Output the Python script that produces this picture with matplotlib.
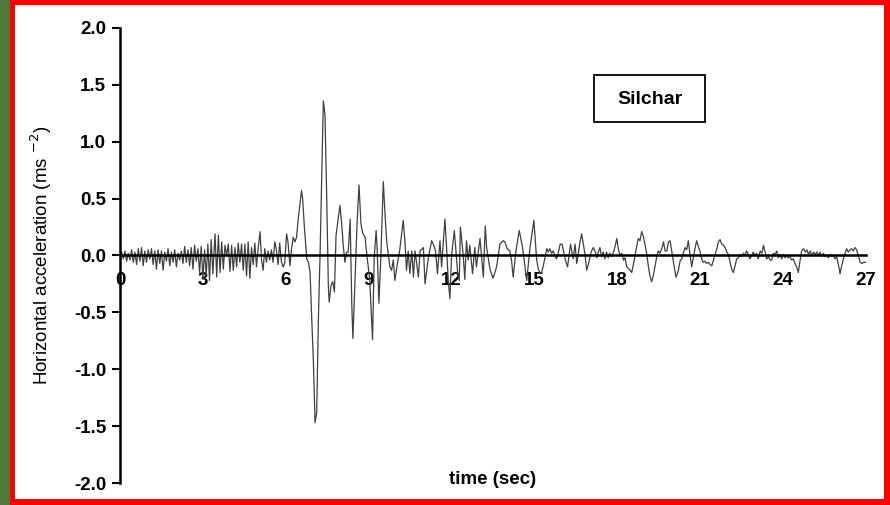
import numpy as np
import matplotlib
matplotlib.use("Agg")
import matplotlib.pyplot as plt
from matplotlib.patches import Rectangle

plt.rcParams['font.family'] = ['Liberation Sans', 'DejaVu Sans']
plt.rcParams['axes.unicode_minus'] = False

# --- data: horizontal acceleration record ---
# first seconds: small noise on a regular sample grid
noise_t = np.linspace(0.0, 3.36, 57)
noise_a = [0.00, 0.03, -0.03, 0.04, -0.05, 0.02, -0.04, 0.05, -0.06, 0.03,
           -0.08, 0.06, -0.05, 0.07, -0.09, 0.04, -0.06, 0.05, -0.03, 0.06,
           -0.08, 0.04, -0.12, 0.05, -0.07, 0.04, -0.13, 0.03, -0.05, 0.06,
           -0.09, 0.03, -0.06, 0.05, -0.10, 0.02, -0.04, 0.04, -0.07, 0.08,
           -0.06, 0.05, -0.09, 0.07, -0.12, 0.09, -0.05, 0.06, -0.15, 0.08,
           -0.21, 0.05, -0.18, 0.10, -0.22, 0.14, -0.16]

# strong motion part: turning points (time, acceleration)
peak_t = [3.44, 3.50, 3.56, 3.62, 3.68, 3.74, 3.80, 3.86, 3.92, 3.98,
          4.04, 4.10, 4.16, 4.22, 4.28, 4.34, 4.40, 4.46, 4.52, 4.58,
          4.64, 4.70, 4.76, 4.82, 4.88, 4.94, 5.00, 5.07, 5.12, 5.18,
          5.24, 5.30, 5.36, 5.42, 5.48, 5.54, 5.60, 5.66, 5.72, 5.78,
          5.84, 5.90, 5.96, 6.03, 6.08, 6.15, 6.21, 6.27, 6.33, 6.39,
          6.45, 6.57, 6.61, 6.67, 6.76, 6.82, 6.88, 6.94, 7.00, 7.06,
          7.12, 7.18, 7.24, 7.30, 7.36, 7.42, 7.48, 7.54, 7.57, 7.64,
          7.70, 7.76, 7.82, 7.96, 8.02, 8.08, 8.14, 8.20, 8.26, 8.33,
          8.39, 8.43, 8.50, 8.58, 8.65, 8.72, 8.78, 8.87, 8.92, 9.04,
          9.10, 9.14, 9.20, 9.27, 9.31, 9.37, 9.44, 9.53, 9.59, 9.65,
          9.71, 9.77, 9.83, 9.89, 9.95, 10.04, 10.12, 10.25, 10.31, 10.37,
          10.43, 10.49, 10.56, 10.62, 10.68, 10.80, 10.86, 10.98, 11.04, 11.16,
          11.28, 11.34, 11.42, 11.49, 11.58, 11.64, 11.76, 11.82, 11.88, 11.94,
          12.00, 12.10, 12.16, 12.22, 12.28, 12.32, 12.42, 12.48, 12.54, 12.60,
          12.66, 12.76, 12.84, 12.90, 13.03, 13.15, 13.22, 13.27, 13.39, 13.50,
          13.63, 13.75, 13.87, 13.93, 14.01, 14.11, 14.17, 14.23, 14.33, 14.45,
          14.57, 14.72, 14.84, 14.98]
peak_a = [0.19, -0.19, 0.18, -0.15, 0.12, -0.12, 0.09, 0.00, 0.10, -0.14,
          0.09, -0.13, 0.07, -0.10, 0.11, -0.06, 0.10, -0.13, 0.10, -0.18,
          0.12, -0.20, 0.07, -0.08, 0.11, -0.10, 0.06, 0.21, -0.03, -0.13,
          0.06, -0.06, 0.04, -0.04, 0.05, -0.06, 0.12, 0.05, -0.08, 0.11,
          -0.05, -0.10, -0.07, 0.19, 0.12, -0.09, 0.06, 0.16, 0.12, 0.16,
          0.32, 0.57, 0.50, 0.26, -0.03, -0.06, -0.15, -0.56, -0.94, -1.47,
          -1.38, -0.56, 0.00, 0.70, 1.36, 1.23, 0.53, -0.26, -0.41, -0.26,
          -0.23, -0.32, 0.18, 0.44, 0.29, 0.09, -0.06, 0.03, 0.03, 0.32,
          -0.44, -0.73, -0.26, 0.28, 0.62, 0.28, 0.20, 0.16, 0.04, -0.22,
          -0.54, -0.74, -0.02, 0.22, 0.04, -0.42, -0.02, 0.65, 0.37, 0.13,
          0.01, -0.10, -0.13, -0.04, -0.22, -0.07, 0.04, 0.31, 0.13, -0.13,
          0.04, -0.16, 0.04, -0.19, 0.04, -0.19, 0.04, 0.07, -0.25, -0.02,
          0.13, 0.10, 0.04, -0.16, 0.13, -0.10, 0.32, 0.07, -0.22, -0.38,
          0.00, 0.22, 0.04, -0.15, -0.22, 0.25, 0.01, -0.21, 0.13, -0.04,
          0.09, -0.16, 0.07, -0.10, 0.15, -0.19, 0.26, 0.07, -0.12, -0.20,
          -0.10, 0.10, 0.13, 0.12, 0.06, 0.04, -0.04, -0.19, 0.04, 0.22,
          0.07, -0.22, 0.07, 0.31]

# coda: (time, acceleration) samples
coda = [(15.08, -0.04), (15.14, -0.12), (15.20, -0.15), (15.26, -0.15), (15.32, -0.09),
        (15.38, -0.02), (15.45, 0.06), (15.50, 0.03), (15.56, 0.06), (15.62, 0.02),
        (15.68, 0.04), (15.74, 0.00), (15.80, -0.03), (15.86, 0.02), (15.93, 0.10),
        (16.00, 0.10), (16.06, 0.03), (16.12, -0.04), (16.20, -0.10), (16.25, 0.00),
        (16.31, 0.10), (16.36, 0.02), (16.40, -0.03), (16.47, 0.10), (16.53, -0.07),
        (16.59, 0.02), (16.65, 0.12), (16.71, 0.19), (16.77, 0.10), (16.83, 0.01),
        (16.89, -0.13), (16.97, -0.06), (17.05, 0.03), (17.13, 0.07), (17.19, 0.04),
        (17.26, -0.02), (17.31, 0.03), (17.37, 0.07), (17.43, -0.01), (17.49, 0.03),
        (17.55, -0.03), (17.61, 0.03), (17.67, -0.02), (17.73, 0.02), (17.79, -0.01),
        (17.85, 0.02), (17.92, 0.08), (17.98, 0.15), (18.04, 0.05), (18.10, 0.00),
        (18.16, 0.02), (18.22, -0.04), (18.28, -0.02), (18.34, -0.10), (18.43, -0.12),
        (18.52, -0.15), (18.58, -0.08), (18.64, 0.00), (18.70, 0.08), (18.76, 0.15),
        (18.82, 0.13), (18.88, 0.21), (18.94, 0.17), (19.00, 0.10), (19.06, 0.02),
        (19.12, -0.09), (19.18, -0.18), (19.24, -0.23), (19.30, -0.18), (19.36, -0.10),
        (19.42, -0.02), (19.48, 0.04), (19.54, 0.02), (19.61, 0.06), (19.67, 0.12),
        (19.73, 0.04), (19.79, 0.04), (19.85, 0.12), (19.91, 0.13), (19.96, 0.05),
        (20.00, -0.01), (20.06, -0.10), (20.12, -0.19), (20.16, -0.17), (20.21, -0.13),
        (20.27, -0.05), (20.33, -0.03), (20.39, 0.02), (20.45, 0.07), (20.51, 0.05),
        (20.57, 0.13), (20.63, 0.01), (20.69, -0.10), (20.75, -0.02), (20.81, 0.06),
        (20.87, 0.13), (20.93, 0.08), (20.99, 0.04), (21.05, -0.03), (21.11, -0.06),
        (21.17, -0.05), (21.23, -0.07), (21.30, -0.06), (21.36, -0.08), (21.42, -0.09),
        (21.48, -0.04), (21.54, 0.01), (21.60, 0.06), (21.66, 0.12), (21.72, 0.14),
        (21.78, 0.10), (21.84, 0.09), (21.90, 0.07), (21.96, 0.03), (22.02, 0.01),
        (22.08, -0.06), (22.14, -0.12), (22.20, -0.15), (22.26, -0.09), (22.32, -0.03),
        (22.38, -0.02), (22.44, 0.01), (22.50, -0.01), (22.56, 0.02), (22.62, 0.00),
        (22.68, 0.04), (22.74, 0.01), (22.80, -0.03), (22.86, 0.00), (22.92, 0.03),
        (22.98, 0.00), (23.04, 0.02), (23.10, -0.03), (23.17, 0.04), (23.23, 0.02),
        (23.29, 0.09), (23.35, 0.03), (23.41, -0.03), (23.47, -0.01), (23.53, -0.04),
        (23.59, -0.04), (23.65, 0.02), (23.71, 0.01), (23.77, 0.04), (23.83, -0.02),
        (23.89, 0.01), (23.95, -0.03), (24.01, 0.01), (24.07, -0.02), (24.13, 0.00),
        (24.19, -0.02), (24.25, -0.01), (24.31, -0.04), (24.37, -0.03), (24.43, -0.07),
        (24.49, -0.10), (24.55, -0.15), (24.61, -0.05), (24.67, 0.04), (24.74, 0.06),
        (24.80, 0.03), (24.86, 0.05), (24.92, 0.01), (24.98, 0.04), (25.04, 0.00),
        (25.10, 0.03), (25.16, 0.01), (25.22, 0.03), (25.28, 0.00), (25.34, 0.03),
        (25.40, -0.01), (25.46, 0.02), (25.52, -0.01), (25.58, 0.00), (25.64, -0.02),
        (25.70, 0.01), (25.76, -0.01), (25.82, 0.00), (25.88, -0.03), (25.94, -0.01),
        (26.00, -0.08), (26.06, -0.16), (26.12, -0.09), (26.18, -0.03), (26.24, 0.02),
        (26.30, 0.06), (26.36, 0.03), (26.42, 0.05), (26.48, 0.06), (26.54, 0.04),
        (26.60, 0.07), (26.66, 0.05), (26.72, 0.00), (26.79, -0.06), (26.85, -0.07),
        (26.92, -0.06), (27.00, -0.06)]
coda_t, coda_a = zip(*coda)

time = np.concatenate([noise_t, peak_t, coda_t])
accel = np.concatenate([noise_a, peak_a, coda_a])

y_ticks = [-2.0, -1.5, -1.0, -0.5, 0.0, 0.5, 1.0, 1.5, 2.0]
x_ticks = [0, 3, 6, 9, 12, 15, 18, 21, 24, 27]
station = 'Silchar'

# --- figure with the green strip and red frame ---
fig = plt.figure(figsize=(8.9, 5.05), dpi=100, facecolor='#4e7a37')
fig.add_artist(Rectangle((10/890, 0), 880/890, 1, transform=fig.transFigure,
                         facecolor='#ff0000', edgecolor='none', zorder=-3))
fig.add_artist(Rectangle((15/890, 6/505), 869/890, 494/505, transform=fig.transFigure,
                         facecolor='white', edgecolor='none', zorder=-2))

ax = fig.add_axes([120/890, 1 - 483/505, 746/890, 455/505])
ax.set_facecolor('none')

ax.plot(time, accel, color='#404040', lw=0.9)

ax.set_xlim(0, 27)
ax.set_ylim(-2, 2)

ax.spines['top'].set_visible(False)
ax.spines['right'].set_visible(False)
ax.spines['bottom'].set_position(('data', 0))
ax.spines['left'].set_linewidth(1.8)
ax.spines['bottom'].set_linewidth(1.8)

ax.set_yticks(y_ticks)
ax.set_yticklabels([f'{v:.1f}' for v in y_ticks])
ax.set_xticks(x_ticks)
ax.tick_params(axis='y', direction='out', length=6, width=1.5, labelsize=13.5, pad=4)
ax.tick_params(axis='x', length=0, labelsize=13.5, pad=12)
for lab in ax.get_xticklabels() + ax.get_yticklabels():
    lab.set_fontweight('bold')

ax.set_ylabel('Horizontal acceleration (ms $^{-2}$)', fontsize=13.5)
ax.yaxis.set_label_coords(-0.088, 0.5)
ax.text(13.5, -1.97, 'time (sec)', ha='center', va='center',
        fontsize=13.5, fontweight='bold')

# station box
fig.add_artist(Rectangle((594/890, 1 - 122/505), 111/890, 47/505,
                         transform=fig.transFigure, facecolor='white',
                         edgecolor='black', lw=1.3))
fig.text(650/890, 1 - 99/505, station, ha='center', va='center',
         fontsize=14, fontweight='bold')

fig.savefig('out.png', dpi=100, facecolor=fig.get_facecolor())
